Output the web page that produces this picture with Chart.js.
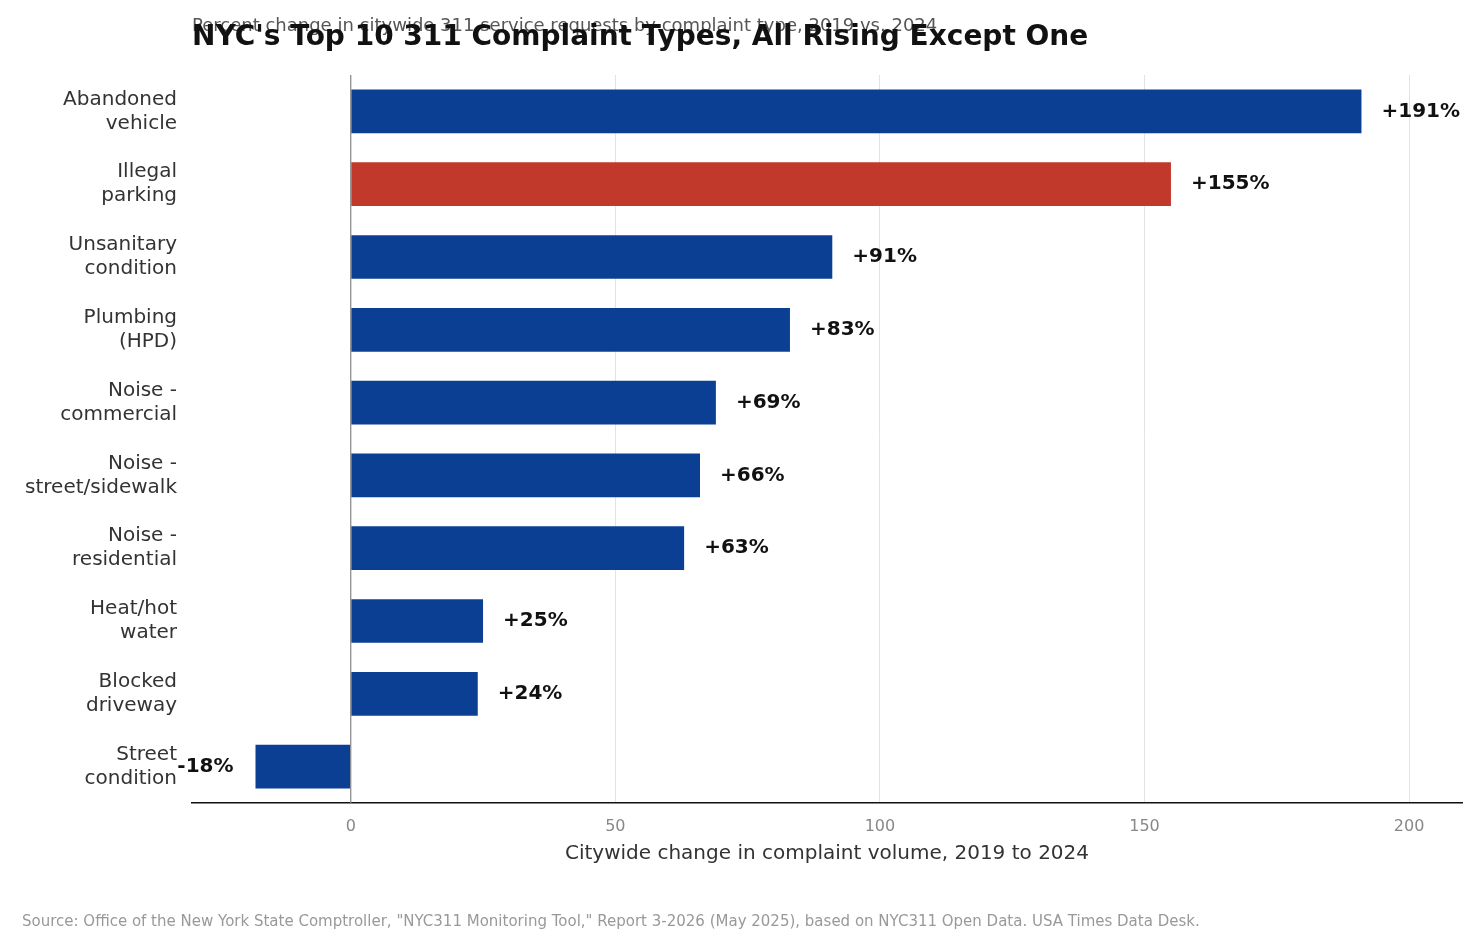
<!DOCTYPE html>
<html><head><meta charset="utf-8">
<script src="https://cdn.jsdelivr.net/npm/chart.js@4"></script>
<style>html,body{margin:0;background:#fff}#wrap{width:1481px;height:945px}</style>
</head><body><div id="wrap"><canvas id="c"></canvas></div>
<script>
// complaint types and % change 2019 -> 2024
var categories = [['Abandoned','vehicle'],['Illegal','parking'],['Unsanitary','condition'],['Plumbing','(HPD)'],['Noise -','commercial'],['Noise -','street/sidewalk'],['Noise -','residential'],['Heat/hot','water'],['Blocked','driveway'],['Street','condition']];
var changes = [191, 155, 91, 83, 69, 66, 63, 25, 24, -18];
var barColors = ['#0b3f93','#c0392b','#0b3f93','#0b3f93','#0b3f93','#0b3f93','#0b3f93','#0b3f93','#0b3f93','#0b3f93'];
var xTicks = [0, 50, 100, 150, 200];

var FONT = "'DejaVu Sans', sans-serif";

var decor = {
  id: 'decor',
  afterDatasetsDraw: function(chart) {
    var ctx = chart.ctx, x = chart.scales.x, area = chart.chartArea;
    ctx.save();
    // zero line
    ctx.strokeStyle = '#888'; ctx.lineWidth = 1.2;
    ctx.beginPath(); ctx.moveTo(x.getPixelForValue(0), area.top); ctx.lineTo(x.getPixelForValue(0), area.bottom); ctx.stroke();
    // value labels
    ctx.font = 'bold 20px ' + FONT; ctx.fillStyle = '#111'; ctx.textBaseline = 'middle';
    chart.getDatasetMeta(0).data.forEach(function(bar, i) {
      var v = changes[i], txt = (v > 0 ? '+' : '') + v + '%';
      if (v >= 0) { ctx.textAlign = 'left'; ctx.fillText(txt, bar.x + 20, bar.y); }
      else { ctx.textAlign = 'right'; ctx.fillText(txt, bar.x - 22, bar.y); }
    });
    // titles
    ctx.textAlign = 'left'; ctx.textBaseline = 'alphabetic';
    ctx.font = '18px ' + FONT; ctx.fillStyle = '#555';
    ctx.fillText('Percent change in citywide 311 service requests by complaint type, 2019 vs. 2024', 192, 31);
    ctx.font = 'bold 28px ' + FONT; ctx.fillStyle = '#111';
    ctx.fillText("NYC's Top 10 311 Complaint Types, All Rising Except One", 192, 45);
    ctx.font = '15px ' + FONT; ctx.fillStyle = '#999';
    ctx.fillText('Source: Office of the New York State Comptroller, "NYC311 Monitoring Tool," Report 3-2026 (May 2025), based on NYC311 Open Data. USA Times Data Desk.', 22, 926);
    ctx.restore();
  }
};

new Chart('c', {
  type: 'bar',
  data: {
    labels: categories,
    datasets: [{ data: changes, backgroundColor: barColors, barPercentage: 0.6, categoryPercentage: 1 }]
  },
  options: {
    indexAxis: 'y', responsive: true, maintainAspectRatio: false, animation: false,
    layout: { padding: { top: 75, bottom: 75, right: 19, left: 0 } },
    plugins: { legend: { display: false }, tooltip: { enabled: false } },
    scales: {
      x: {
        min: -30, max: 210,
        afterBuildTicks: function(s) { s.ticks = xTicks.map(function(v) { return { value: v }; }); },
        afterFit: function(s) { s.height = 67; },
        grid: { color: '#e3e3e3', drawTicks: false },
        border: { display: true, color: '#111', width: 1.5 },
        ticks: { color: '#888', font: { size: 16, family: FONT }, padding: 14 },
        title: { display: true, text: 'Citywide change in complaint volume, 2019 to 2024', color: '#333', font: { size: 20, family: FONT }, padding: { top: 4 } }
      },
      y: {
        afterFit: function(s) { s.width = 192; },
        grid: { display: false, drawTicks: true, tickLength: 7, tickColor: '#333' },
        border: { display: false },
        ticks: { color: '#333', font: { size: 20, family: FONT }, padding: 8 }
      }
    }
  },
  plugins: [decor]
});
</script></body></html>
